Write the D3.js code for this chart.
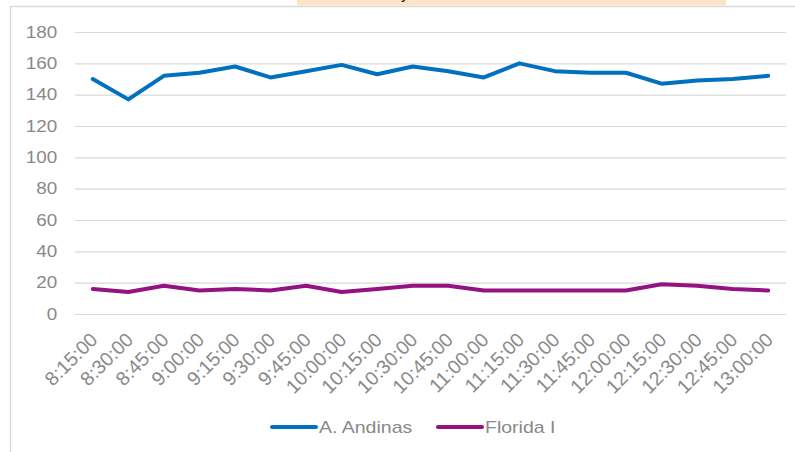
<!DOCTYPE html>
<html>
<head>
<meta charset="utf-8">
<script src="https://cdn.jsdelivr.net/npm/d3@7"></script>
<style>
  body { margin: 0; background: #fff; }
  svg { display: block; font-family: "Liberation Sans", Arial, sans-serif; }
</style>
</head>
<body>
<div id="chart"></div>
<script>
const categories = ["8:15:00", "8:30:00", "8:45:00", "9:00:00", "9:15:00", "9:30:00", "9:45:00",
    "10:00:00", "10:15:00", "10:30:00", "10:45:00", "11:00:00", "11:15:00", "11:30:00",
    "11:45:00", "12:00:00", "12:15:00", "12:30:00", "12:45:00", "13:00:00"];
const andinas = [150, 137, 152, 154, 158, 151, 155, 159, 153, 158, 155, 151, 160, 155, 154, 154, 147, 149, 150, 152];
const florida = [16, 14, 18, 15, 16, 15, 18, 14, 16, 18, 18, 15, 15, 15, 15, 15, 19, 18, 16, 15];
const yTicks = [0, 20, 40, 60, 80, 100, 120, 140, 160, 180];
const seriesNames = ["A. Andinas", "Florida I"];
const colors = ["#0070c0", "#941281"];

const width = 795, height = 452;
const margin = { top: 32, right: 9, bottom: 138, left: 75 };
const innerW = width - margin.left - margin.right;
const innerH = height - margin.top - margin.bottom;
const textColor = "#898989";
const fontFamily = "'Liberation Sans', Arial, sans-serif";

const svg = d3.select("#chart").append("svg")
    .attr("width", width)
    .attr("height", height);

// chart frame (only top and left edges visible in the crop)
svg.append("path")
    .attr("d", "M10.5,452 V6.5 H795")
    .attr("fill", "none")
    .attr("stroke", "#d9d9d9")
    .attr("stroke-width", 1.5);

// cut-off title box above the chart
svg.append("rect")
    .attr("x", 297).attr("y", 0)
    .attr("width", 429).attr("height", 5.5)
    .attr("fill", "#fde4c9");
svg.append("text")
    .attr("x", 401).attr("y", -1)
    .attr("font-size", 16).attr("fill", "#222")
    .text("y");

const g = svg.append("g").attr("transform", `translate(${margin.left},${margin.top})`);

const x = d3.scaleBand().domain(categories).range([0, innerW]);
const y = d3.scaleLinear().domain([0, 180]).range([innerH, 0]);

// gridlines
g.append("g")
    .call(d3.axisLeft(y).tickValues(yTicks).tickSize(-innerW).tickFormat(""))
    .call(a => a.select(".domain").remove())
    .call(a => a.selectAll("line").attr("stroke", "#d9d9d9").attr("stroke-width", 1.2));

// y axis labels
g.append("g")
    .call(d3.axisLeft(y).tickValues(yTicks).tickSize(0).tickPadding(15))
    .call(a => a.select(".domain").remove())
    .call(a => a.selectAll("text").attr("fill", textColor).attr("font-size", 16)
        .attr("font-family", fontFamily)
        .attr("transform", "scale(1.18,1)"));

// x axis labels, rotated
g.append("g")
    .attr("transform", `translate(0,${innerH})`)
    .call(d3.axisBottom(x).tickSize(0).tickPadding(0))
    .call(a => a.select(".domain").remove())
    .call(a => a.selectAll("text")
        .attr("fill", textColor).attr("font-size", 19.5)
        .attr("font-family", fontFamily)
        .attr("text-anchor", "end")
        .attr("dy", "0")
        .attr("transform", "translate(6,27) rotate(-45)"));

const line = d3.line()
    .x((d, i) => x(categories[i]) + x.bandwidth() / 2)
    .y(d => y(d));

[andinas, florida].forEach((series, k) => {
    g.append("path")
        .datum(series)
        .attr("fill", "none")
        .attr("stroke", colors[k])
        .attr("stroke-width", 4)
        .attr("stroke-linejoin", "round")
        .attr("stroke-linecap", "round")
        .attr("d", line);
});

// legend
const legend = svg.append("g").attr("transform", "translate(272,427)");
const legendX = [0, 166];
seriesNames.forEach((name, k) => {
    const item = legend.append("g").attr("transform", `translate(${legendX[k]},0)`);
    item.append("line")
        .attr("x1", 0).attr("x2", 44)
        .attr("stroke", colors[k]).attr("stroke-width", 4)
        .attr("stroke-linecap", "round");
    item.append("text")
        .attr("transform", "translate(47,6) scale(1.22,1)")
        .attr("font-size", 16).attr("fill", textColor)
        .text(name);
});
</script>
</body>
</html>
